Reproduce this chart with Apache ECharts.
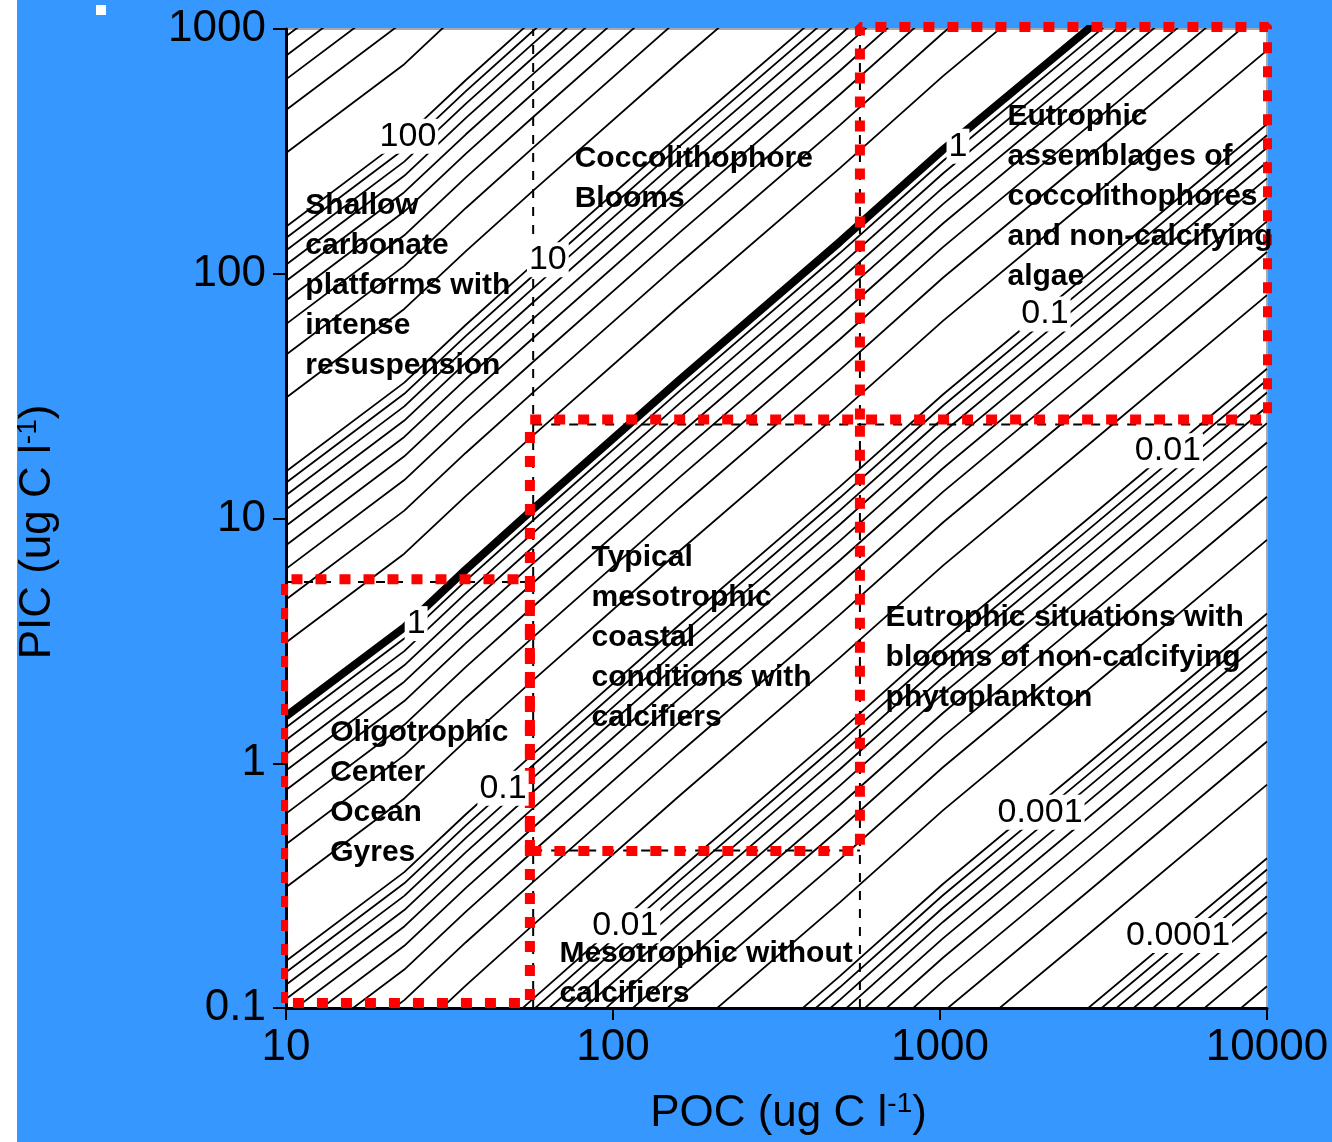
<!DOCTYPE html>
<html><head><meta charset="utf-8">
<script src="https://cdn.jsdelivr.net/npm/echarts@6/dist/echarts.min.js"></script>
<style>html,body{margin:0;padding:0;background:#fff}#c{width:1332px;height:1142px}</style>
</head><body><div id="c"></div>
<script>
// ---- data ----
const xTickLabels = ['10', '100', '1000', '10000'];
const yTickLabels = ['0.1', '1', '10', '100', '1000'];

// bold "1" contour (POC, PIC)
const contourShapePOC = [10, 23, 35.5, 56.9, 160, 494, 1021, 2818, 10000];
const contourShapePIC = [1.556, 3.59, 6.19, 10.9, 36.9, 135, 321, 991, 4090];

// contour levels: decade labels times 1..9
const contourDecades = [0.00001, 0.0001, 0.001, 0.01, 0.1, 1, 10, 100];
const contourSteps = [1, 2, 3, 4, 5, 6, 7, 8, 9];

// contour labels: [text, POC, PIC]
const contourLabels = [
  ['100', 23.6, 365], ['10', 63.2, 114], ['1', 25.0, 3.72], ['1', 1135, 332],
  ['0.1', 46.1, 0.79], ['0.1', 2094, 68.5], ['0.01', 109, 0.217], ['0.01', 4977, 18.9],
  ['0.001', 2023, 0.63], ['0.0001', 5346, 0.198]
];

// region annotations: [text, POC, PIC] (top-left of block)
const regionTexts = [
  ['Shallow\ncarbonate\nplatforms with\nintense\nresuspension', 11.5, 227],
  ['Coccolithophore\nBlooms', 76.6, 356],
  ['Eutrophic\nassemblages of\ncoccolithophores\nand non-calcifying\nalgae', 1614, 528],
  ['Typical\nmesotrophic\ncoastal\nconditions with\ncalcifiers', 86.3, 8.3],
  ['Eutrophic situations with\nblooms of non-calcifying\nphytoplankton', 684, 4.72],
  ['Oligotrophic\nCenter\nOcean\nGyres', 13.7, 1.6],
  ['Mesotrophic without\ncalcifiers', 68.8, 0.2]
];

// red dotted region boxes: [POC left, POC right, PIC bottom, PIC top]
const redBoxes = [
  [9.8, 55.7, 0.1048, 5.64],
  [55.7, 569, 0.4375, 25.4],
  [569, 10070, 25.4, 1020]
];

// black dashed boundaries: [[POC,PIC],[POC,PIC]]
const dashedLines = [
  [[57, 0.1], [57, 1000]],
  [[569, 0.1], [569, 1000]],
  [[57, 24.2], [10000, 24.2]],
  [[10, 5.5], [57, 5.5]],
  [[57, 0.44], [569, 0.44]]
];

// ---- build chart ----
const FONT = "'Liberation Sans', Arial, Helvetica, sans-serif";
const series = [];

const levels = [];
contourDecades.forEach(d => contourSteps.forEach(s => levels.push(d * s)));
levels.forEach(c => {
  series.push({
    type: 'line', silent: true, symbol: 'none', z: 2,
    lineStyle: { color: '#000', width: 1.8 },
    data: contourShapePOC.map((p, i) => [p, contourShapePIC[i] * c])
  });
});

series.push({
  type: 'line', silent: true, symbol: 'none', z: 3,
  lineStyle: { color: '#000', width: 8, cap: 'butt' },
  data: contourShapePOC.map((p, i) => [p, contourShapePIC[i]])
});

dashedLines.forEach(l => series.push({
  type: 'line', silent: true, symbol: 'none', z: 4,
  lineStyle: { color: '#000', width: 2, type: [9, 9] },
  data: l
}));

redBoxes.forEach(b => series.push({
  type: 'line', silent: true, symbol: 'none', z: 5, clip: false,
  lineStyle: { color: '#ff0000', width: 10, type: [11, 13], cap: 'butt' },
  data: [[b[0], b[2]], [b[0], b[3]], [b[1], b[3]], [b[1], b[2]], [b[0], b[2]]]
}));

series.push({
  type: 'scatter', silent: true, z: 7, symbolSize: 1,
  itemStyle: { color: 'rgba(0,0,0,0)', opacity: 1 },
  label: {
    show: true, position: 'inside', color: '#000', fontFamily: FONT, fontSize: 34,
    lineHeight: 34, backgroundColor: '#fff', padding: [1, 2, 0, 2], opacity: 1,
    textBorderWidth: 0, textBorderColor: 'transparent',
    formatter: p => p.data[2]
  },
  data: contourLabels.map(d => [d[1], d[2], d[0]])
});

series.push({
  type: 'scatter', silent: true, z: 6, symbolSize: 1,
  itemStyle: { color: 'rgba(0,0,0,0)', opacity: 1 },
  label: {
    show: true, position: [0, 0], align: 'left', verticalAlign: 'top', opacity: 1,
    color: '#000', fontFamily: FONT, fontSize: 30, fontWeight: 'bold', lineHeight: 40,
    textBorderWidth: 0, textBorderColor: 'transparent',
    formatter: p => p.data[2]
  },
  data: regionTexts.map(d => [d[1], d[2], d[0]])
});

const nameRich = {
  a: { fontSize: 44, color: '#000', fontFamily: FONT, lineHeight: 52 },
  s: { fontSize: 28, color: '#000', fontFamily: FONT, lineHeight: 52, verticalAlign: 'top', padding: [2, 0, 0, 0] }
};

const chart = echarts.init(document.getElementById('c'));
chart.setOption({
  animation: false,
  backgroundColor: '#3697ff',
  graphic: [
    { type: 'rect', left: 0, top: 0, shape: { width: 17, height: 1142 }, style: { fill: '#fff' }, z: 100 },
    { type: 'rect', left: 96, top: 5, shape: { width: 10, height: 10 }, style: { fill: '#fff' }, z: 100 }
  ],
  grid: {
    left: 286, top: 29, width: 981, height: 979,
    show: true, backgroundColor: '#fff', borderColor: '#a8a8a8', borderWidth: 2
  },
  xAxis: {
    type: 'log', logBase: 10, min: 10, max: 10000, splitNumber: 3,
    name: '{a|POC (ug C l}{s|-1}{a|)}', nameLocation: 'middle', nameGap: 80,
    nameTextStyle: { padding: [0, 0, 0, 24], rich: nameRich },
    axisLine: { lineStyle: { color: '#000', width: 3 } },
    axisTick: { length: 12, lineStyle: { color: '#000', width: 2 } },
    minorTick: { show: false }, splitLine: { show: false },
    axisLabel: {
      color: '#000', fontFamily: FONT, fontSize: 44, margin: 18,
      formatter: v => xTickLabels[Math.round(Math.log10(v)) - 1]
    }
  },
  yAxis: {
    type: 'log', logBase: 10, min: 0.1, max: 1000, splitNumber: 4,
    name: '{a|PIC (ug C l}{s|-1}{a|)}', nameLocation: 'middle', nameGap: 222,
    nameTextStyle: { padding: [0, 27, 0, 0], rich: nameRich },
    axisLine: { lineStyle: { color: '#000', width: 3 } },
    axisTick: { length: 13, lineStyle: { color: '#000', width: 2 } },
    minorTick: { show: false }, splitLine: { show: false },
    axisLabel: {
      color: '#000', fontFamily: FONT, fontSize: 44, margin: 20,
      formatter: v => yTickLabels[Math.round(Math.log10(v)) + 1]
    }
  },
  series: series
});
</script></body></html>
